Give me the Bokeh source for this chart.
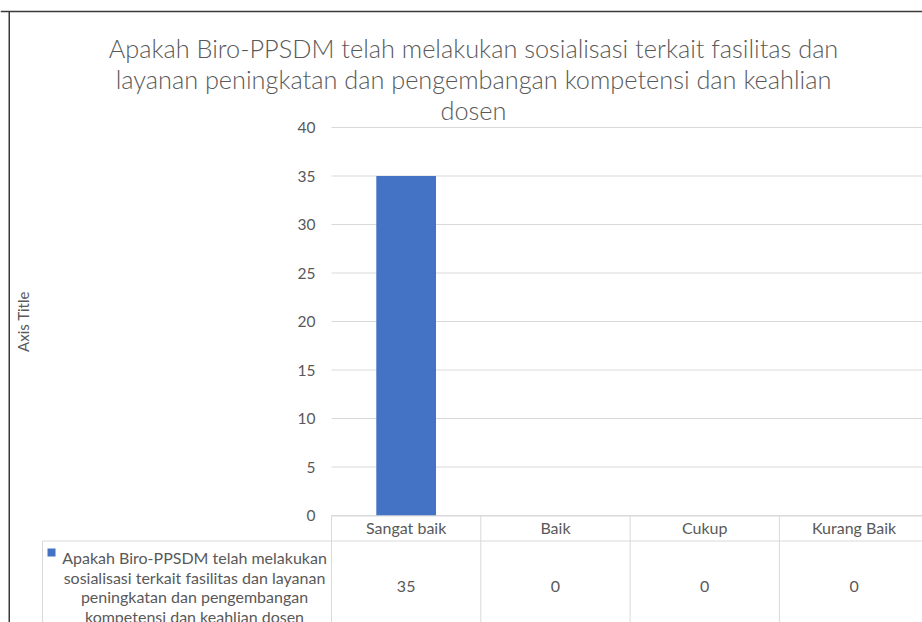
from bokeh.plotting import figure
from bokeh.models import Range1d, FixedTicker, LinearAxis, ColumnDataSource
from bokeh.embed import file_html
from bokeh.resources import INLINE
from bokeh.core.properties import value

# ---------------- data ----------------
categories = ["Sangat baik", "Baik", "Cukup", "Kurang Baik"]
counts = [35, 0, 0, 0]
y_ticks = [0, 5, 10, 15, 20, 25, 30, 35, 40]
title_lines = [
    "Apakah Biro-PPSDM telah melakukan sosialisasi terkait fasilitas dan",
    "layanan peningkatan dan pengembangan kompetensi dan keahlian",
    "dosen",
]
series_lines = [
    "Apakah Biro-PPSDM telah melakukan",
    "sosialisasi terkait fasilitas dan layanan",
    "peningkatan dan pengembangan",
    "kompetensi dan keahlian dosen",
]
axis_title = "Axis Title"

# ---------------- style / layout ----------------
FONT = "Lato"
TITLE_FONT = "'Lato Light', Lato"
TXT = "#595959"
GRID = "#D9D9D9"
BAR = "#4472C4"
BORDER = "#3a3a3a"

W, H = 922, 622
ORG_X, ORG_Y = 0, 0        # canvas origin in the picture
PLOT_L = 331               # picture x of the category axis start
ZERO_Y = 515               # picture y of value 0
COL_W = 149.3              # px per category
PX = 9.7                   # px per value unit


def cx(page_x):
    return (page_x - PLOT_L) / COL_W


def cy(page_y):
    return (ZERO_Y - page_y) / PX


x0, x1 = cx(ORG_X), cx(ORG_X + W)
y0, y1 = cy(ORG_Y + H), cy(ORG_Y)

p = figure(width=W, height=H, output_backend="svg", toolbar_location=None,
           x_range=Range1d(x0, x1), y_range=Range1d(y0, y1),
           x_axis_location=None, y_axis_location=None,
           min_border=0, min_border_left=0, min_border_right=0,
           min_border_top=0, min_border_bottom=0)
p.outline_line_color = None
p.grid.visible = False

n = len(categories)

# gridlines (value axis)
p.segment(x0=[0] * len(y_ticks), y0=y_ticks, x1=[x1] * len(y_ticks), y1=y_ticks,
          line_color=GRID, line_width=1)

# value axis drawn at the category axis start
ax = LinearAxis(fixed_location=0, ticker=FixedTicker(ticks=y_ticks), bounds=(0, 40))
ax.axis_line_color = None
ax.major_tick_line_color = None
ax.minor_tick_line_color = None
ax.major_tick_out = 0
ax.major_tick_in = 0
ax.minor_tick_out = 0
ax.major_label_standoff = 16
ax.major_label_text_font = FONT
ax.major_label_text_font_size = "15.5px"
ax.major_label_text_color = TXT
ax.axis_label = axis_title
ax.axis_label_text_font = FONT
ax.axis_label_text_font_size = "15px"
ax.axis_label_text_font_style = "normal"
ax.axis_label_text_color = TXT
ax.axis_label_standoff = 263
p.add_layout(ax, "left")

# bars
src = ColumnDataSource(dict(x=[i + 0.5 for i in range(n)], top=counts))
p.vbar(x="x", top="top", bottom=0, width=0.4, source=src, fill_color=BAR, line_color=None)

# title
p.text(x=[cx(473)] * len(title_lines), y=[cy(47 + 31 * i) for i in range(len(title_lines))],
       text=title_lines, text_align="center", text_baseline="alphabetic",
       text_font=value(TITLE_FONT), text_font_size="25.3px", text_color=TXT)

# data table: lines
leg_l = cx(42)
row_y = cy(540.5)
p.segment(x0=[0, leg_l], y0=[cy(515.5), row_y], x1=[x1, x1], y1=[cy(515.5), row_y],
          line_color=GRID, line_width=1)
vx = [float(i) for i in range(n)] + [leg_l]
p.segment(x0=vx, y0=[0] * n + [row_y], x1=vx, y1=[y0] * (n + 1),
          line_color=GRID, line_width=1)

# data table: header + values
ccx = [i + 0.5 for i in range(n)]
p.text(x=ccx, y=[cy(527)] * n, text=categories, text_align="center", text_baseline="middle",
       text_font=value(FONT), text_font_size="16px", text_color=TXT)
p.text(x=ccx, y=[cy(586)] * n, text=[str(v) for v in counts], text_align="center",
       text_baseline="middle", text_font=value(FONT), text_font_size="16px", text_color=TXT)

# data table: legend key + series name
p.rect(x=[cx(51)], y=[cy(552)], width=8, height=8, width_units="screen",
       height_units="screen", fill_color=BAR, line_color=None)
p.text(x=[cx(194)] * len(series_lines), y=[cy(557 + 19.5 * i) for i in range(len(series_lines))],
       text=series_lines, text_align="center", text_baseline="alphabetic",
       text_font=value(FONT), text_font_size="16px", text_color=TXT)

# chart border (top + left)
p.segment(x0=[x0, cx(8.75)], y0=[cy(11), cy(11)], x1=[x1, cx(8.75)], y1=[cy(11), y0],
          line_color=BORDER, line_width=1.5)

open("out.html", "w").write(file_html(p, INLINE))
